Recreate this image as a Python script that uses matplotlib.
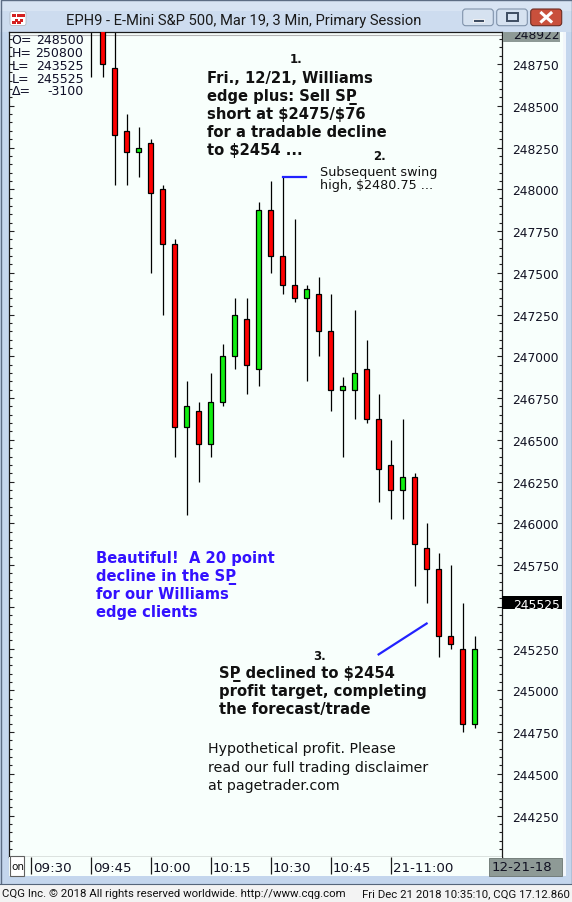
# encoding: UTF-8
import matplotlib
matplotlib.use('Agg')
import matplotlib.pyplot as plt
import matplotlib.transforms as mtransforms
from matplotlib.patches import Rectangle, FancyBboxPatch
from matplotlib.lines import Line2D
from matplotlib.ticker import MultipleLocator, FuncFormatter

W, H = 572, 903

# 3 min bars, index 0 = 09:30
bars = list(range(5, 38))
opens = [249150, 249100, 248725, 248350, 248225, 248275, 248000, 247675, 246575, 246675,
         246475, 246725, 247000, 247225, 246925, 247875, 247600, 247425, 247350, 247375,
         247150, 246800, 246800, 246925, 246625, 246350, 246200, 246275, 245850, 245725,
         245325, 245250, 244800]
highs = [249300, 249200, 249000, 248450, 248375, 248300, 248025, 247700, 246850, 246725,
         246900, 247075, 247350, 247350, 247925, 248050, 248075, 247825, 247425, 247475,
         247375, 246875, 247275, 247100, 246775, 246500, 246625, 246300, 246000, 245825,
         245750, 245525, 245325]
lows = [248675, 248675, 248025, 248025, 248075, 247500, 247250, 246400, 246050, 246250,
        246400, 246700, 246925, 246775, 246825, 247500, 247375, 247325, 246850, 247000,
        246675, 246400, 246625, 246600, 246125, 246025, 246025, 245625, 245525, 245200,
        245250, 244750, 244775]
closes = [249000, 248750, 248325, 248225, 248250, 247975, 247675, 246575, 246700, 246475,
          246725, 247000, 247250, 246950, 247875, 247600, 247425, 247350, 247400, 247150,
          246800, 246825, 246900, 246625, 246325, 246200, 246275, 245875, 245725, 245325,
          245275, 244800, 245250]

time_ticks = [0, 5, 10, 15, 20, 25, 30]
time_labels = ['09:30', '09:45', '10:00', '10:15', '10:30', '10:45', '21-11:00']

hdr_names = ['O=', 'H=', 'L=', 'L=', 'Δ=']
hdr_values = ['248500', '250800', '243525', '245525', '-3100']

last_price = 245525
range_high = 248922
swing_bar, swing_high = 21, 248075
target_x = [29, 33]
target_y = [245215, 245400]

RED, GREEN, BLUE = '#ff0000', '#11ee11', '#2222ff'
BG = '#f8fffc'
FRAME = '#c4d6ed'

fig = plt.figure(figsize=(W / 100, H / 100), dpi=100)
fig.patch.set_facecolor(FRAME)
PX = mtransforms.Affine2D().scale(1 / W, -1 / H).translate(0, 1) + fig.transFigure


def prect(x0, y0, x1, y1, **kw):
    r = Rectangle((x0, y0), x1 - x0, y1 - y0, transform=PX, **kw)
    fig.add_artist(r)
    return r


def ptext(x, y, s, **kw):
    kw.setdefault('va', 'baseline')
    return fig.text(x, y, s, transform=PX, parse_math=False, **kw)


# ---- window chrome
prect(0, 0, W, 33, fc='#cddcef', ec='none', zorder=-10)
prect(0, 0, W, 12, fc='#d8e4f3', ec='none', zorder=-9)
prect(0.5, 0.5, W - 0.5, H - 0.5, fc='none', ec='#5d6d84', lw=1, zorder=-8)
prect(9.3, 33.3, 562.5, 877, fc=BG, ec='none', zorder=-7)
prect(562.5, 33.3, 566, 877, fc='#f2f6fb', ec='none', zorder=-7)
prect(0, 885.5, W, H, fc='#f3f3f3', ec='none', zorder=-7)
fig.add_artist(Line2D([0, W], [885.5, 885.5], transform=PX, color='#55657a', lw=0.8, zorder=-6))

# title icon
fig.add_artist(FancyBboxPatch((10, 12.5), 16, 14, boxstyle='round,pad=0,rounding_size=2',
                              transform=PX, fc='white', ec='#b0b8c4', lw=0.6, zorder=2))
for ix, iy in [(12, 15), (17, 15), (14.5, 19.5), (19.5, 19.5), (12, 22), (17, 22), (21, 15)]:
    prect(ix, iy, ix + 3.5, iy + 3, fc='#d42020', ec='none', zorder=3)

ptext(66, 25.5, 'EPH9 - E-Mini S&P 500, Mar 19, 3 Min, Primary Session',
      family='Roboto', size=10.6, color='#1a1a1a')

# caption buttons
for bx in [462.7, 496.7]:
    fig.add_artist(FancyBboxPatch((bx, 10), 30.6, 16.7, boxstyle='round,pad=0,rounding_size=3',
                                  transform=PX, fc='#d6e2f0', ec='#8093ab', lw=0.8, zorder=2))
prect(472.5, 19.5, 484, 22.5, fc='#3e4d62', ec='white', lw=0.6, zorder=3)
prect(506.5, 13.5, 517.5, 21.5, fc='none', ec='#3e4d62', lw=1.4, zorder=3)
fig.add_artist(FancyBboxPatch((530.7, 10), 31, 16.7, boxstyle='round,pad=0,rounding_size=3',
                              transform=PX, fc='#c9503c', ec='#6d2c22', lw=0.8, zorder=2))
for xs, ys in [([541.5, 551], [14, 22.5]), ([541.5, 551], [22.5, 14])]:
    fig.add_artist(Line2D(xs, ys, transform=PX, color='white', lw=2.2, zorder=3))

# ---- main chart
ax = fig.add_axes([9.3 / W, 1 - 858 / H, (502 - 9.3) / W, (858 - 33.3) / H])
ax.set_facecolor(BG)
ax.set_xlim(-1.775, 39.28)
ax.set_ylim(244002, 248940)

ax.axhline(range_high, color='#b4b4b4', lw=0.8, zorder=1)

colors = [GREEN if c > o else RED for o, c in zip(opens, closes)]
bottoms = [min(o, c) for o, c in zip(opens, closes)]
heights = [abs(c - o) for o, c in zip(opens, closes)]
ax.vlines(bars, lows, highs, color='black', lw=0.9, zorder=2)
ax.bar(bars, heights, bottom=bottoms, width=0.46, color=colors, edgecolor='black',
       linewidth=0.9, zorder=3)

# annotation lines
ax.plot([swing_bar, swing_bar + 1.95], [swing_high, swing_high], color=BLUE, lw=1.6, zorder=4)
ax.plot(target_x, target_y, color=BLUE, lw=1.6, zorder=4)


def price_fmt(v, p):
    # the last-price flag hides the label under it
    if abs(v - last_price) < 100:
        return ''
    return '%d' % v


ax.yaxis.set_major_locator(MultipleLocator(250))
ax.yaxis.set_minor_locator(MultipleLocator(50))
ax.yaxis.set_major_formatter(FuncFormatter(price_fmt))
ax.tick_params(axis='y', which='both', direction='in', left=True, right=True,
               labelleft=False, labelright=True, width=0.8, color='#222222')
ax.tick_params(axis='y', which='major', length=3.8, labelsize=8.8, pad=7.6,
               labelcolor='#111122')
ax.tick_params(axis='y', which='minor', length=2.2)
ax.tick_params(axis='x', bottom=False, labelbottom=False)
for sp in ax.spines.values():
    sp.set_color('#1a1a1a')
    sp.set_linewidth(0.9)

# last price flag
blend = mtransforms.blended_transform_factory(ax.transAxes, ax.transData)
ax.add_patch(Rectangle((1.0, last_price - 40), 60 / 492.7, 80, transform=blend,
                       fc='black', ec='none', clip_on=False, zorder=5))
ax.text(1.0 + 10.7 / 492.7, last_price, '%d' % last_price, transform=blend, color='white',
        size=8.8, va='center_baseline', ha='left', clip_on=False, zorder=6)

# visible range high flag
hibox = prect(503.3, 33.3, 560, 43.3, fc='#8e9a96', ec='none', zorder=5)
t = ptext(512.7, 39.3, '%d' % range_high, size=8.8, color='#111122', zorder=6)
t.set_clip_path(hibox)

# header values
for i, (nm, val) in enumerate(zip(hdr_names, hdr_values)):
    yb = 44.3 + 12.75 * i
    ptext(11.5, yb, nm, size=9, color='#101028')
    ptext(83.5, yb, val, size=9, color='#101028', ha='right')

# ---- time axis row
tax = fig.add_axes([9.3 / W, 1 - 877 / H, (502 - 9.3) / W, (877 - 858) / H])
tax.set_facecolor(BG)
tax.set_xlim(ax.get_xlim())
tax.set_ylim(0, 1)
tax.set_xticks([])
tax.set_yticks([])
for sp in tax.spines.values():
    sp.set_visible(False)
tax.vlines(time_ticks, 0.08, 1, color='#1a1a1a', lw=0.9)
for k, lab in zip(time_ticks, time_labels):
    tax.text(k + 0.18, 0.24, lab, size=9.6, color='#111122', va='baseline', ha='left')

prect(10, 857, 24, 877, fc='white', ec='#606060', lw=0.8, zorder=5)
ptext(11.5, 870, 'on', size=7.5, color='#111111', zorder=6)
prect(489.3, 859, 561.7, 876.7, fc='#8e9a96', ec='#6a7470', lw=0.6, zorder=5)
ptext(491.5, 871.5, '12-21-18', size=9.6, color='#111122', zorder=6)

# ---- annotations
BOLD = dict(family='DejaVu Sans', weight='bold', size=10.6, color='#111111')
ptext(289.3, 63.3, '1.', family='DejaVu Sans', weight='bold', size=8.5, color='#111111')
block1 = ['Fri., 12/21, Williams', 'edge plus: Sell SP\u0332', 'short at $2475/$76',
          'for a tradable decline', 'to $2454 ...']
for i, s in enumerate(block1):
    ptext(206.7, 82.7 + 18 * i, s, **BOLD)

ptext(372.7, 160, '2.', family='DejaVu Sans', weight='bold', size=8.5, color='#111111')
for i, s in enumerate(['Subsequent swing', 'high, $2480.75 ...']):
    ptext(320, 175.7 + 13.3 * i, s, size=9.2, color='#111111')

blue_block = ['Beautiful!  A 20 point', 'decline in the SP\u0332', 'for our Williams', 'edge clients']
for i, s in enumerate(blue_block):
    ptext(95.7, 562.7 + 18 * i, s, family='DejaVu Sans', weight='bold', size=10.6, color='#3311ff')

ptext(312.7, 660, '3.', family='DejaVu Sans', weight='bold', size=8.5, color='#111111')
block3 = ['SP\u0332 declined to $2454', 'profit target, completing', 'the forecast/trade']
for i, s in enumerate(block3):
    ptext(219.3, 678.3 + 18 * i, s, **BOLD)

block4 = ['Hypothetical profit. Please', 'read our full trading disclaimer', 'at pagetrader.com']
for i, s in enumerate(block4):
    ptext(207.7, 753.3 + 18.3 * i, s, size=10.2, color='#111111')

# ---- footer
ptext(2, 897.5, 'CQG Inc. \u00a9 2018 All rights reserved worldwide. http://www.cqg.com',
      family='Roboto', size=8.2, color='#111111')
ptext(570, 897.5, 'Fri Dec 21 2018 10:35:10, CQG 17.12.860', family='Roboto', size=8.2,
      color='#111111', ha='right')

fig.savefig('out.png', dpi=100, facecolor=fig.get_facecolor())
